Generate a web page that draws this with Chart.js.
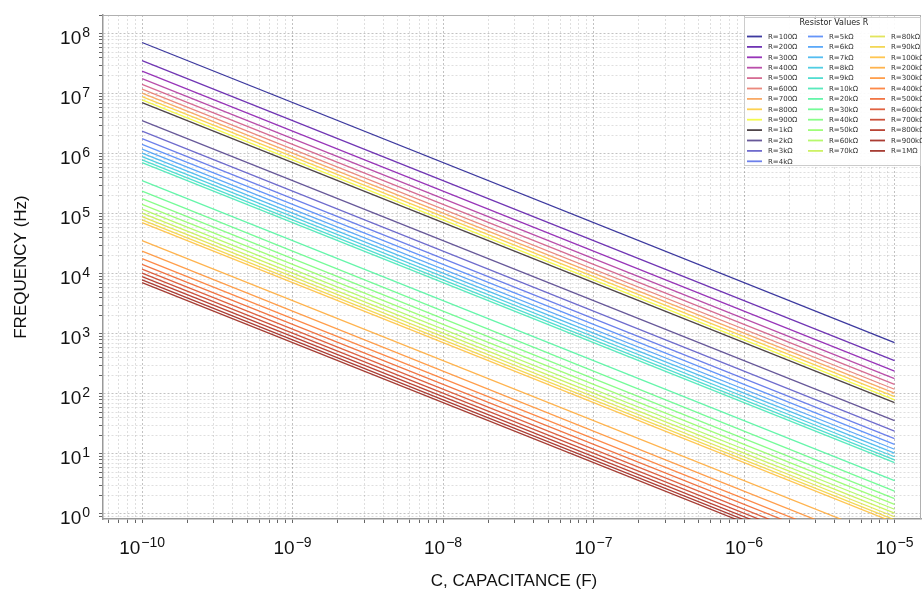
<!DOCTYPE html>
<html><head><meta charset="utf-8">
<script src="https://cdn.jsdelivr.net/npm/chart.js@4/dist/chart.umd.min.js"></script>
<style>html,body{margin:0;padding:0;background:#fff}#wrap{width:922px;height:595px;position:relative}</style>
</head><body><div id="wrap"><canvas id="c" width="922" height="595"></canvas></div>
<script>
// ---- DATA ----
const resistorLabels = ['R=100Ω','R=200Ω','R=300Ω','R=400Ω','R=500Ω','R=600Ω','R=700Ω','R=800Ω','R=900Ω',
  'R=1kΩ','R=2kΩ','R=3kΩ','R=4kΩ','R=5kΩ','R=6kΩ','R=7kΩ','R=8kΩ','R=9kΩ',
  'R=10kΩ','R=20kΩ','R=30kΩ','R=40kΩ','R=50kΩ','R=60kΩ','R=70kΩ','R=80kΩ','R=90kΩ',
  'R=100kΩ','R=200kΩ','R=300kΩ','R=400kΩ','R=500kΩ','R=600kΩ','R=700kΩ','R=800kΩ','R=900kΩ','R=1MΩ'];
const capacitance = [1e-10, 1e-5];
// frequency (Hz) at C = 1e-10 F
const freqAtCmin = [7.2e7,3.6e7,2.4e7,1.8e7,1.45e7,1.2e7,1.03e7,9.0e6,8.0e6,
  7.2e6,3.6e6,2.4e6,1.8e6,1.45e6,1.2e6,1.03e6,9.0e5,8.0e5,
  7.2e5,3.6e5,2.4e5,1.8e5,1.45e5,1.2e5,1.03e5,9.0e4,8.0e4,
  7.2e4,3.6e4,2.4e4,1.8e4,1.45e4,1.2e4,1.03e4,9.0e3,8.0e3,7.2e3];
// frequency (Hz) at C = 1e-5 F
const freqAtCmax = [720,360,240,180,145,120,103,90,80,
  72,36,24,18,14.5,12,10.3,9.0,8.0,
  7.2,3.6,2.4,1.8,1.45,1.2,1.03,0.90,0.80,
  0.72,0.36,0.24,0.18,0.145,0.12,0.103,0.090,0.080,0.072];
const xTickExponents = [-10,-9,-8,-7,-6,-5];
const yTickExponents = [0,1,2,3,4,5,6,7,8];

// ---- STYLE ----
const plasma9 = ['#0d0887','#4c02a1','#7e03a8','#a92395','#cc4778','#e66c5c','#f89540','#fdc527','#f0f921'];
function turbo(t){
  const r = 0.13572138 + t*(4.61539260 + t*(-42.66032258 + t*(132.13108234 + t*(-152.94239396 + t*59.28637943))));
  const g = 0.09140261 + t*(2.19418839 + t*(4.84296658 + t*(-14.18503333 + t*(4.27729857 + t*2.82956604))));
  const b = 0.10667330 + t*(12.64194608 + t*(-60.58204836 + t*(110.36276771 + t*(-89.90310912 + t*27.34824973))));
  const c = v => Math.round(Math.max(0, Math.min(1, v))*255);
  return [c(r), c(g), c(b)];
}
function hexToRgb(h){ return [parseInt(h.slice(1,3),16), parseInt(h.slice(3,5),16), parseInt(h.slice(5,7),16)]; }
const ALPHA = 0.8;
const colors = resistorLabels.map((_, i) => {
  const rgb = i < 9 ? hexToRgb(plasma9[i]) : turbo((i - 9) / 27);
  return `rgba(${rgb[0]},${rgb[1]},${rgb[2]},${ALPHA})`;
});

const datasets = resistorLabels.map((lab, i) => ({
  label: lab,
  data: [{x: capacitance[0], y: freqAtCmin[i]}, {x: capacitance[1], y: freqAtCmax[i]}],
  showLine: true,
  borderColor: colors[i],
  backgroundColor: colors[i],
  borderWidth: 1.3,
  pointRadius: 0,
  clip: 0
}));

function logTicks(exps, lo, hi){
  const t = [];
  const e0 = Math.min(...exps) - 1, e1 = Math.max(...exps) + 1;
  for (let e = e0; e <= e1; e++){
    for (let m = 1; m <= 9; m++){
      const v = m * Math.pow(10, e);
      if (v >= lo && v <= hi) t.push({value: v, major: m === 1 && exps.includes(e)});
    }
  }
  return t;
}

const X_MIN = 5.5e-11, X_MAX = 1.5e-5, Y_MIN = 0.825, Y_MAX = 2.07e8;
const FONT = '"Liberation Sans", Arial, Helvetica, sans-serif';

function gridColor(ctx){ return ctx.tick && ctx.tick.major ? 'rgba(0,0,0,0.30)' : 'rgba(0,0,0,0.16)'; }

function drawPow(ctx, exp, x, yBase, mode){
  const base = '10';
  const sup = exp < 0 ? '\u2212' + Math.abs(exp) : String(exp);
  ctx.font = '19px ' + FONT;
  const wb = ctx.measureText(base).width;
  ctx.font = '14px ' + FONT;
  const ws = ctx.measureText(sup).width;
  const total = wb + 1 + ws;
  let x0 = mode === 'center' ? x - total/2 : x - total;
  ctx.fillStyle = '#111';
  ctx.textAlign = 'left';
  ctx.textBaseline = 'alphabetic';
  ctx.font = '19px ' + FONT;
  ctx.fillText(base, x0, yBase);
  ctx.font = '14px ' + FONT;
  ctx.fillText(sup, x0 + wb + 1, yBase - 7);
}

const decorPlugin = {
  id: 'decor',
  afterDraw(chart){
    const ctx = chart.ctx;
    const a = chart.chartArea;
    const xs = chart.scales.x, ys = chart.scales.y;
    ctx.save();
    // top / right frame
    ctx.strokeStyle = '#b0b0b0';
    ctx.lineWidth = 1;
    ctx.beginPath();
    ctx.moveTo(a.left, a.top + 0.5); ctx.lineTo(a.right, a.top + 0.5);
    ctx.moveTo(a.right - 0.5, a.top); ctx.lineTo(a.right - 0.5, a.bottom);
    ctx.stroke();
    // tick labels
    xTickExponents.forEach(e => drawPow(ctx, e, xs.getPixelForValue(Math.pow(10, e)), 554, 'center'));
    yTickExponents.forEach(e => drawPow(ctx, e, 90, ys.getPixelForValue(Math.pow(10, e)) + 10, 'right'));
    // axis titles
    ctx.fillStyle = '#111';
    ctx.font = '17px ' + FONT;
    ctx.textAlign = 'center';
    ctx.textBaseline = 'middle';
    ctx.fillText('C, CAPACITANCE (F)', (a.left + a.right)/2 + 2, 581);
    ctx.save();
    ctx.translate(21, (a.top + a.bottom)/2);
    ctx.rotate(-Math.PI/2);
    ctx.fillText('FREQUENCY (Hz)', 0, 0);
    ctx.restore();
    // legend
    const L = 744, T = 17, R = 921, B = 166;
    ctx.fillStyle = 'rgba(255,255,255,0.92)';
    ctx.fillRect(L, T, R - L, B - T);
    ctx.strokeStyle = '#cccccc';
    ctx.lineWidth = 1;
    ctx.strokeRect(L + 0.5, T + 0.5, R - L - 1, B - T - 1);
    ctx.fillStyle = '#222';
    ctx.font = '8px "DejaVu Sans", sans-serif';
    ctx.textAlign = 'center';
    ctx.textBaseline = 'middle';
    ctx.fillText('Resistor Values R', 834, 23);
    const colX = [747, 808, 870];
    const colStart = [0, 13, 25];
    const colLen = [13, 12, 12];
    ctx.font = '7px "DejaVu Sans", sans-serif';
    ctx.textAlign = 'left';
    chart.data.datasets.forEach((ds, i) => {
      let c = 0;
      while (c < 2 && i >= colStart[c + 1]) c++;
      const row = i - colStart[c];
      const y = 36.5 + row * 10.4;
      ctx.strokeStyle = ds.borderColor;
      ctx.lineWidth = 1.8;
      ctx.beginPath();
      ctx.moveTo(colX[c], y); ctx.lineTo(colX[c] + 15, y);
      ctx.stroke();
      ctx.fillStyle = '#333';
      ctx.fillText(ds.label, colX[c] + 21, y + 0.5);
    });
    ctx.restore();
  }
};

new Chart(document.getElementById('c').getContext('2d'), {
  type: 'scatter',
  data: { datasets },
  options: {
    responsive: false,
    animation: false,
    devicePixelRatio: 1,
    layout: { padding: { top: 15, right: 1, left: 0, bottom: 0 } },
    plugins: { legend: { display: false }, tooltip: { enabled: false } },
    elements: { point: { radius: 0 } },
    scales: {
      x: {
        type: 'logarithmic', min: X_MIN, max: X_MAX, bounds: 'data',
        afterBuildTicks: s => { s.ticks = logTicks(xTickExponents, X_MIN, X_MAX); },
        afterFit: s => { s.height = 76; },
        ticks: { callback: () => '', autoSkip: false, maxRotation: 0 },
        grid: { color: gridColor, lineWidth: 0.8, tickColor: '#666', tickLength: 4, tickWidth: 1 },
        border: { display: true, color: '#999', width: 1.5, dash: [2, 2] }
      },
      y: {
        type: 'logarithmic', min: Y_MIN, max: Y_MAX, bounds: 'data',
        afterBuildTicks: s => { s.ticks = logTicks(yTickExponents, Y_MIN, Y_MAX); },
        afterFit: s => { s.width = 103; },
        ticks: { callback: () => '', autoSkip: false },
        grid: { color: gridColor, lineWidth: 0.8, tickColor: '#666', tickLength: 4, tickWidth: 1 },
        border: { display: true, color: '#999', width: 1.5, dash: [2, 2] }
      }
    }
  },
  plugins: [decorPlugin]
});
</script>
</body></html>
